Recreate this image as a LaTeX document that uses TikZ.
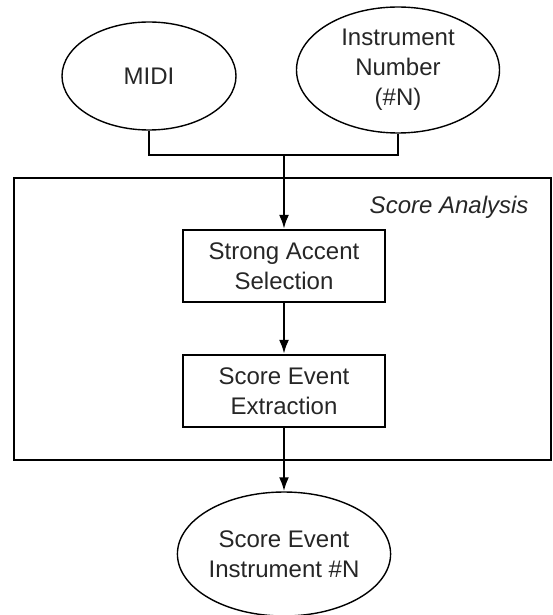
\documentclass[tikz,border=0pt]{standalone}
\usepackage{fontspec}
\setmainfont{Liberation Sans}
\usetikzlibrary{arrows.meta,shapes.geometric}
\begin{document}
\begin{tikzpicture}[x=1pt,y=-1pt,
  txt/.style={font=\fontsize{24}{30}\selectfont, align=center, text=black!85},
  oval/.style={txt, draw, ellipse, line width=1.4pt, inner sep=0pt},
  stepbox/.style={txt, draw, rectangle, line width=2.2pt, minimum width=202pt, minimum height=72pt, inner sep=0pt},
  conn/.style={line width=2.4pt},
  arr/.style={conn, -{Latex[length=14pt,width=10pt]}}]
\useasboundingbox (0,0) rectangle (552,615);
\node[draw, line width=2.4pt, minimum width=537pt, minimum height=282pt, inner sep=0pt] (sa) at (282.5,319) {};
\node[txt, font=\fontsize{24}{30}\selectfont\itshape, anchor=east] (salbl) at (532,207) {Score Analysis};
\node[oval, minimum width=174pt, minimum height=108pt] (midi) at (149,76) {MIDI};
\node[oval, minimum width=203pt, minimum height=126pt] (inst) at (398,70) {Instrument\\Number\\(\#N)};
\node[stepbox] (sas) at (284,266) {Strong Accent\\Selection};
\node[stepbox] (see) at (284,391) {Score Event\\Extraction};
\node[oval, minimum width=210pt, minimum height=124pt] (out) at (284,554) {Score Event\\Instrument \#N};
\coordinate (j) at (284,155);
\draw[conn] (midi.south) |- (j);
\draw[conn] (inst.south) |- (j);
\draw[arr] (j) -- (sas.north);
\draw[arr] (sas) -- (see);
\draw[arr] (see) -- (out);
\end{tikzpicture}
\end{document}
